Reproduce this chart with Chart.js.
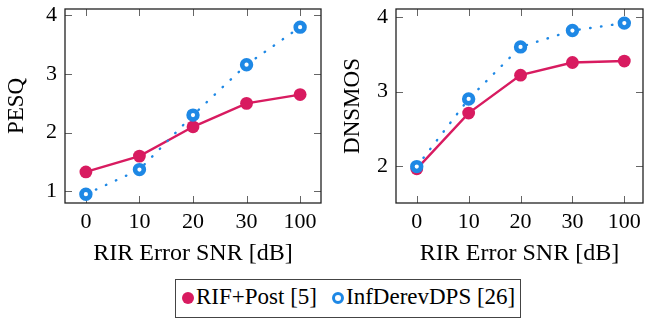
<!DOCTYPE html>
<html>
<head>
<meta charset="utf-8">
<script src="https://cdn.jsdelivr.net/npm/chart.js@4/dist/chart.umd.min.js"></script>
<style>
  body { margin: 0; width: 652px; height: 320px; background: #fff; position: relative; overflow: hidden; }
  canvas { position: absolute; top: 0; }
  #legend { position: absolute; left: 175px; top: 279px; width: 346px; height: 39px; border: 1px solid #444; box-sizing: border-box;
            font-family: 'Liberation Serif'; font-size: 23px; color: #000; }
  #legend span { position: absolute; top: 4px; white-space: nowrap; line-height: 1.15; }
  .mk { position: absolute; box-sizing: border-box; border-radius: 50%; top: 12px; }
  .rif { left: 6px; width: 12px; height: 12px; background: #D81B60; }
  .inf { left: 156px; width: 12px; height: 12px; border: 3.5px solid #1E88E5; background: #fff; }
</style>
</head>
<body>
<canvas id="pesq" width="330" height="270" style="left:0"></canvas>
<canvas id="dnsmos" width="322" height="270" style="left:330px"></canvas>
<div id="legend"><div class="mk rif"></div><span style="left:20px">RIF+Post [5]</span><div class="mk inf"></div><span style="left:170px">InfDerevDPS [26]</span></div>
<script>
const snrLabels = ['0', '10', '20', '30', '100'];
const pesqRif = [1.33, 1.60, 2.10, 2.50, 2.65];
const pesqInf = [0.95, 1.37, 2.30, 3.16, 3.80];
const dnsmosRif = [1.96, 2.71, 3.22, 3.39, 3.41];
const dnsmosInf = [1.99, 2.90, 3.60, 3.82, 3.92];
const pesqTicks = [1, 2, 3, 4];
const dnsmosTicks = [2, 3, 4];

const tickFont = { family: 'Liberation Serif', size: 22 };
const xTitleFont = { family: 'Liberation Serif', size: 24 };
const yTitleFont = { family: 'Liberation Serif', size: 23 };

// pgfplots-like box with inward ticks
const boxPlugin = {
  id: 'box',
  beforeDatasetsDraw(chart) {
    const { ctx, chartArea: a, scales } = chart;
    ctx.save();
    ctx.strokeStyle = '#666';
    ctx.lineWidth = 1;
    ctx.beginPath();
    scales.x.ticks.forEach(t => {
      const px = Math.round(scales.x.getPixelForValue(t.value)) + 0.5;
      ctx.moveTo(px, a.bottom); ctx.lineTo(px, a.bottom - 7);
      ctx.moveTo(px, a.top); ctx.lineTo(px, a.top + 7);
    });
    scales.y.ticks.forEach(t => {
      const py = Math.round(scales.y.getPixelForValue(t.value)) + 0.5;
      ctx.moveTo(a.left, py); ctx.lineTo(a.left + 7, py);
      ctx.moveTo(a.right, py); ctx.lineTo(a.right - 7, py);
    });
    ctx.stroke();
    ctx.strokeStyle = '#222';
    ctx.lineWidth = 1.3;
    ctx.strokeRect(a.left, a.top, a.right - a.left, a.bottom - a.top);
    ctx.restore();
  }
};

function makeChart(id, yLabel, rif, inf, yTicks, yMin, yMax, xMin, xMax, padRight, axisW, titlePad) {
  const H = 270;
  return new Chart(document.getElementById(id), {
    type: 'line',
    data: {
      datasets: [{
        label: 'RIF+Post [5]',
        data: rif.map((v, i) => ({ x: i, y: v })),
        borderColor: '#D81B60',
        backgroundColor: '#D81B60',
        borderWidth: 2.4,
        pointRadius: 6.4,
        pointBorderWidth: 0,
        pointBackgroundColor: '#D81B60',
        order: 1
      }, {
        label: 'InfDerevDPS [26]',
        data: inf.map((v, i) => ({ x: i, y: v })),
        borderColor: '#1E88E5',
        borderWidth: 2.4,
        borderDash: [0.5, 10.5],
        borderCapStyle: 'round',
        pointRadius: 4.4,
        pointBorderWidth: 4.6,
        pointBorderColor: '#1E88E5',
        pointBackgroundColor: '#fff',
        order: 0
      }]
    },
    options: {
      responsive: false,
      animation: false,
      devicePixelRatio: 1,
      layout: { padding: { top: 5, right: padRight, left: 0, bottom: 0 } },
      plugins: { legend: { display: false }, tooltip: { enabled: false } },
      scales: {
        x: {
          type: 'linear',
          min: xMin,
          max: xMax,
          afterBuildTicks: s => { s.ticks = snrLabels.map((_, i) => ({ value: i })); },
          afterFit: s => { s.height = H - 203; s.paddingLeft = 0; s.paddingRight = 0; },
          ticks: { callback: v => snrLabels[v], font: tickFont, color: '#000', padding: 6, maxRotation: 0, autoSkip: false },
          grid: { display: false, drawTicks: false },
          border: { display: false },
          title: { display: true, text: 'RIR Error SNR [dB]', font: xTitleFont, color: '#000', padding: { top: 0, bottom: 2 } }
        },
        y: {
          min: yMin,
          max: yMax,
          afterBuildTicks: s => { s.ticks = yTicks.map(v => ({ value: v })); },
          afterFit: s => { s.width = axisW; s.paddingTop = 0; s.paddingBottom = 0; },
          ticks: { font: tickFont, color: '#000', padding: 8 },
          grid: { display: false, drawTicks: false },
          border: { display: false },
          title: { display: true, text: yLabel, font: yTitleFont, color: '#000', padding: { top: titlePad, bottom: 0 } }
        }
      }
    },
    plugins: [boxPlugin]
  });
}

makeChart('pesq', 'PESQ', pesqRif, pesqInf, pesqTicks, 0.8, 4.11, -0.39, 4.39, 7, 65, 3);
makeChart('dnsmos', 'DNSMOS', dnsmosRif, dnsmosInf, dnsmosTicks, 1.5, 4.11, -0.40, 4.36, 1, 66, 9);
</script>
</body>
</html>
